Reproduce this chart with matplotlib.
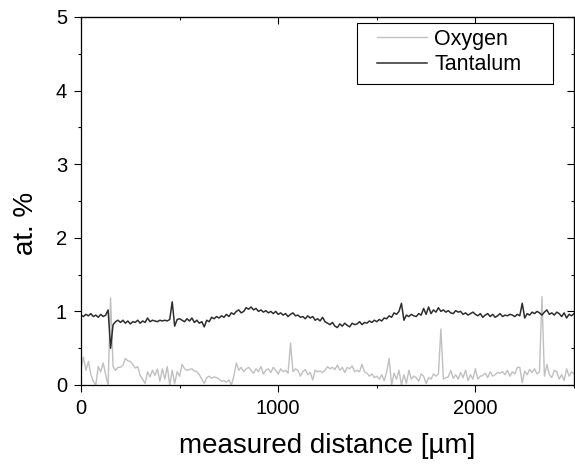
import numpy as np
import matplotlib
matplotlib.use("Agg")
import matplotlib.pyplot as plt
from matplotlib.ticker import MultipleLocator
from matplotlib.patches import Rectangle

plt.rcParams['font.family'] = ['Liberation Sans', 'DejaVu Sans']

# distance grid (µm), step 12.5
distance = np.arange(0, 2500.1, 12.5)

oxygen = [
    0.22, 0.38, 0.20, 0.32, 0.14, 0.05, 0.00, 0.25,
    0.18, 0.30, 0.14, 0.00, 1.18, 0.25, 0.20, 0.24,
    0.24, 0.27, 0.36, 0.33, 0.32, 0.28, 0.23, 0.25,
    0.13, 0.08, 0.02, 0.18, 0.11, 0.20, 0.13, 0.22,
    0.05, 0.22, 0.08, 0.25, 0.00, 0.20, 0.02, 0.18,
    0.12, 0.28, 0.22, 0.20, 0.21, 0.22, 0.19, 0.18,
    0.14, 0.08, 0.02, 0.10, 0.12, 0.09, 0.11, 0.10,
    0.08, 0.05, 0.06, 0.04, 0.07, 0.00, 0.12, 0.30,
    0.20, 0.24, 0.18, 0.22, 0.24, 0.20, 0.16, 0.22,
    0.18, 0.25, 0.15, 0.20, 0.22, 0.17, 0.24, 0.20,
    0.15, 0.22, 0.18, 0.20, 0.16, 0.57, 0.18, 0.22,
    0.20, 0.12, 0.18, 0.21, 0.14, 0.17, 0.07, 0.20,
    0.18, 0.19, 0.17, 0.20, 0.25, 0.22, 0.24, 0.21,
    0.27, 0.20, 0.24, 0.17, 0.24, 0.22, 0.26, 0.18,
    0.20, 0.18, 0.28, 0.18, 0.16, 0.12, 0.15, 0.10,
    0.12, 0.08, 0.14, 0.06, 0.18, 0.36, 0.00, 0.16,
    0.08, 0.20, 0.00, 0.14, 0.02, 0.20, 0.08, 0.12,
    0.10, 0.05, 0.15, 0.12, 0.02, 0.10, 0.08, 0.15,
    0.12, 0.15, 0.76, 0.08, 0.10, 0.11, 0.20, 0.09,
    0.14, 0.08, 0.17, 0.10, 0.20, 0.06, 0.14, 0.08,
    0.22, 0.08, 0.12, 0.13, 0.16, 0.10, 0.18, 0.12,
    0.14, 0.17, 0.16, 0.18, 0.14, 0.20, 0.12, 0.18,
    0.15, 0.24, 0.24, 0.03, 0.19, 0.14, 0.21, 0.17,
    0.22, 0.15, 0.18, 1.20, 0.12, 0.28, 0.14, 0.10,
    0.20, 0.18, 0.08, 0.14, 0.06, 0.22, 0.12, 0.18,
    0.15,
]

tantalum = [
    0.95, 0.93, 0.96, 0.94, 0.97, 0.93, 0.95, 0.92,
    0.96, 0.93, 0.95, 1.02, 0.50, 0.82, 0.86, 0.88,
    0.85, 0.88, 0.84, 0.87, 0.83, 0.86, 0.85, 0.88,
    0.84, 0.87, 0.85, 0.91, 0.86, 0.88, 0.87, 0.86,
    0.88, 0.87, 0.88, 0.87, 0.89, 1.13, 0.80, 0.89,
    0.90, 0.88, 0.86, 0.90, 0.87, 0.91, 0.85, 0.88,
    0.84, 0.86, 0.79, 0.88, 0.86, 0.92, 0.90, 0.93,
    0.91, 0.94, 0.92, 0.96, 0.93, 0.98, 0.96, 1.00,
    1.02, 0.98, 1.00, 1.05, 1.03, 1.06, 1.02, 1.04,
    1.00, 1.02, 0.99, 1.01, 0.98, 1.00, 0.97, 1.00,
    0.96, 0.98, 0.95, 0.97, 0.93, 0.96, 0.98, 0.94,
    0.95, 0.92, 0.93, 0.90, 0.94, 0.91, 0.93, 0.88,
    0.90, 0.87, 0.92, 0.86, 0.84, 0.82, 0.85, 0.80,
    0.78, 0.83, 0.80, 0.84, 0.81, 0.79, 0.84, 0.82,
    0.83, 0.86, 0.82, 0.85, 0.84, 0.87, 0.85, 0.88,
    0.86, 0.89, 0.87, 0.91, 0.90, 0.94, 0.92, 0.98,
    0.96, 1.00, 1.11, 0.88, 0.95, 0.93, 0.96, 0.94,
    0.93, 0.97, 0.95, 1.04, 0.96, 1.06, 0.97, 1.02,
    0.99, 1.05, 1.00, 1.02, 0.99, 1.01, 0.98, 0.97,
    1.01, 0.99, 1.00, 0.96, 0.98, 0.95, 0.97, 0.99,
    0.96, 0.94, 0.97, 0.92, 0.95, 0.97, 0.93, 0.96,
    0.92, 0.94, 0.97, 0.93, 0.95, 0.94, 0.96, 0.95,
    0.93, 0.96, 0.94, 1.11, 0.91, 0.97, 0.95, 0.99,
    0.97, 1.00, 0.98, 0.95, 0.99, 1.02, 0.96, 0.98,
    0.95, 0.99, 0.97, 0.93, 0.98, 0.91, 0.96, 0.94,
    0.97,
]

x_ticks = [0, 1000, 2000]
y_ticks = [0, 1, 2, 3, 4, 5]

W, H = 575, 466
fig = plt.figure(figsize=(W / 100, H / 100), dpi=100)
ax = fig.add_axes([81 / W, 1 - 385 / H, (574 - 81) / W, (385 - 17) / H])

ax.plot(distance, oxygen, color='#c0c0c0', lw=1.0, label='Oxygen')
ax.plot(distance, tantalum, color='#2e2e2e', lw=1.1, label='Tantalum')

ax.set_xlim(0, 2500)
ax.set_ylim(0, 5)
ax.set_xticks(x_ticks)
ax.set_yticks(y_ticks)
ax.xaxis.set_minor_locator(MultipleLocator(500))
ax.yaxis.set_minor_locator(MultipleLocator(0.5))
ax.tick_params(which='major', direction='out', length=5, width=0.8, labelsize=14.5,
               colors='black', pad=5)
ax.tick_params(which='minor', direction='out', length=2.5, width=0.8)

for sp in ax.spines.values():
    sp.set_linewidth(0.9)

secx = ax.secondary_xaxis('top')
secx.set_xticks(x_ticks)
secx.xaxis.set_minor_locator(MultipleLocator(500))
secx.tick_params(which='major', direction='in', length=5, width=0.8, labeltop=False)
secx.tick_params(which='minor', direction='in', length=2.5, width=0.8)
secx.set_xticklabels([])

secy = ax.secondary_yaxis('right')
secy.set_yticks(y_ticks)
secy.yaxis.set_minor_locator(MultipleLocator(0.5))
secy.tick_params(which='major', direction='in', length=5, width=0.8, labelright=False)
secy.tick_params(which='minor', direction='in', length=2.5, width=0.8)
secy.set_yticklabels([])

ax.set_xlabel('measured distance [µm]', fontsize=20)
ax.set_ylabel('at. %', fontsize=20)
ax.xaxis.set_label_coords(0.5, -0.13)
ax.yaxis.set_label_coords(-0.085, 0.44)

# legend frame drawn separately
aw, ah = 493.0, 368.0
ax.add_patch(Rectangle(((357 - 81) / aw, (385 - 84) / ah), (553 - 357) / aw, (84 - 22.7) / ah,
                       transform=ax.transAxes, facecolor='white', edgecolor='black',
                       lw=0.8, zorder=4))
leg = ax.legend(loc='upper left', bbox_to_anchor=((377 - 81) / aw, (385 - 29) / ah),
                fontsize=15.5, frameon=False, handlelength=2.3, borderpad=0,
                labelspacing=0.2, handletextpad=0.37, borderaxespad=0)
leg.set_zorder(5)

fig.savefig('out.png', dpi=100)
